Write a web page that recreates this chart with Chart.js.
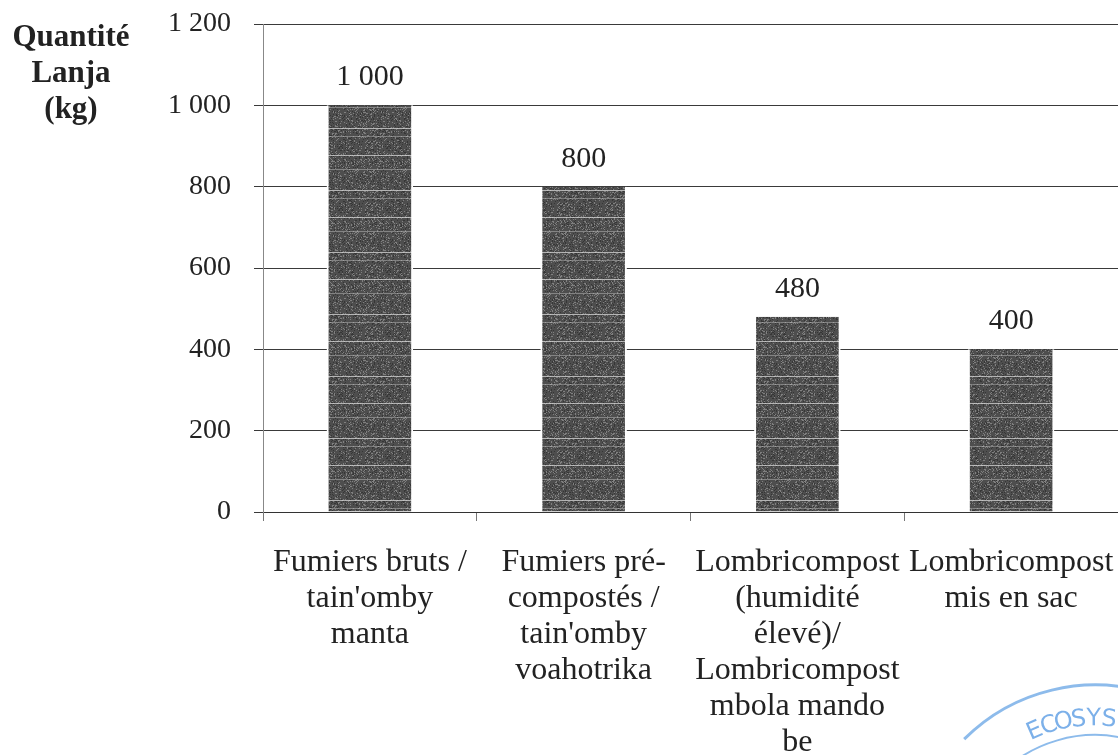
<!DOCTYPE html>
<html>
<head>
<meta charset="utf-8">
<script src="https://cdn.jsdelivr.net/npm/chart.js@4"></script>
<style>
  html, body { margin: 0; padding: 0; background: #fff; }
  #wrap { width: 1118px; height: 755px; }
</style>
</head>
<body>
<div id="wrap"><canvas id="chart" width="1118" height="755"></canvas></div>
<script>
// chart data
const categories = [
  ["Fumiers bruts /", "tain'omby", "manta"],
  ["Fumiers pré-", "compostés /", "tain'omby", "voahotrika"],
  ["Lombricompost", "(humidité", "élevé)/", "Lombricompost", "mbola mando", "be"],
  ["Lombricompost", "mis en sac"]
];
const quantities = [1000, 800, 480, 400];
const yTitleLines = ["Quantité", "Lanja", "(kg)"];
const yMin = 0;
const yMax = 1200;
const yStep = 200;
const stampText = "ECOSYSTE";

const serif = "'Liberation Serif', 'Times New Roman', serif";

// thousands with a plain space: 1 200
const fmt = (v) => String(v).replace(/\B(?=(\d{3})+(?!\d))/g, " ");

// dark grey speckled texture for the bars (deterministic)
const makePattern = () => {
  const c = document.createElement("canvas");
  c.width = 48; c.height = 62;
  const p = c.getContext("2d");
  p.fillStyle = "#4e4e4e";
  p.fillRect(0, 0, c.width, c.height);
  for (let y = 0; y < c.height; y++) {
    for (let x = 0; x < c.width; x++) {
      const h = Math.abs(Math.sin(x * 12.9898 + y * 78.233) * 43758.5453) % 1;
      if (h > 0.85) { p.fillStyle = "#808080"; p.fillRect(x, y, 1, 1); }
      else if (h < 0.12) { p.fillStyle = "#363636"; p.fillRect(x, y, 1, 1); }
    }
  }
  p.fillStyle = "rgba(225,225,225,0.7)";
  p.fillRect(0, 4, c.width, 1);
  p.fillRect(0, 31, c.width, 1);
  p.fillStyle = "rgba(200,200,200,0.45)";
  p.fillRect(0, 12, c.width, 1);
  p.fillRect(0, 45, c.width, 1);
  return p.createPattern(c, "repeat");
};

// y title, value labels and the blue stamp corner
const extrasPlugin = {
  id: "extras",
  afterDatasetsDraw(chart) {
    const ctx = chart.ctx;
    ctx.save();
    ctx.fillStyle = "#222";
    ctx.textAlign = "center";
    ctx.textBaseline = "middle";
    ctx.font = "30px " + serif;
    const meta = chart.getDatasetMeta(0);
    meta.data.forEach((bar, i) => {
      ctx.fillText(fmt(quantities[i]), bar.x, bar.y - 28);
    });
    ctx.font = "bold 31px " + serif;
    yTitleLines.forEach((t, i) => {
      ctx.fillText(t, 71, 38 + i * 36);
    });

    // stamp (partially visible)
    const cx = 1095, cy = 870, r1 = 185, r2 = 165;
    ctx.strokeStyle = "rgba(80,150,225,0.65)";
    ctx.lineWidth = 3;
    ctx.beginPath();
    ctx.arc(cx, cy, r1, Math.PI * 1.25, Math.PI * 1.6);
    ctx.stroke();
    ctx.lineWidth = 2;
    ctx.beginPath();
    ctx.arc(cx, cy, r2 - 30, Math.PI * 1.22, Math.PI * 1.6);
    ctx.stroke();
    ctx.fillStyle = "rgba(80,150,225,0.75)";
    ctx.font = "24px 'DejaVu Sans', sans-serif";
    let a = Math.PI * 1.37;
    for (const ch of stampText) {
      ctx.save();
      ctx.translate(cx + Math.cos(a) * (r2 - 14), cy + Math.sin(a) * (r2 - 14));
      ctx.rotate(a + Math.PI / 2);
      ctx.fillText(ch, 0, 0);
      ctx.restore();
      a += 0.1;
    }
    ctx.restore();
  }
};

const ctx = document.getElementById("chart").getContext("2d");
new Chart(ctx, {
  type: "bar",
  data: {
    labels: categories,
    datasets: [{
      data: quantities,
      backgroundColor: makePattern(),
      borderColor: "#ffffff",
      borderWidth: { left: 2, right: 2, top: 0, bottom: 0 },
      borderSkipped: "start",
      barPercentage: 0.405,
      categoryPercentage: 1.0
    }]
  },
  options: {
    responsive: false,
    animation: false,
    layout: { padding: { top: 24, right: 0, bottom: 0, left: 0 } },
    plugins: {
      legend: { display: false },
      tooltip: { enabled: false }
    },
    scales: {
      x: {
        offset: true,
        grid: {
          offset: true,
          drawOnChartArea: false,
          drawTicks: true,
          tickLength: 9,
          color: "#777"
        },
        border: { display: true, color: "#333", width: 1 },
        ticks: {
          color: "#222",
          padding: 24,
          maxRotation: 0,
          autoSkip: false,
          font: { family: serif, size: 32, lineHeight: 1.12 }
        },
        afterFit: (axis) => {
          axis.height = 243;
          axis.paddingLeft = 0;
          axis.paddingRight = 0;
        }
      },
      y: {
        min: yMin,
        max: yMax,
        grid: {
          color: "#3a3a3a",
          lineWidth: 1,
          tickLength: 9
        },
        border: { display: true, color: "#888", width: 1 },
        ticks: {
          stepSize: yStep,
          color: "#222",
          padding: 23,
          font: { family: serif, size: 28 },
          callback: (v) => fmt(v)
        },
        afterFit: (axis) => {
          axis.width = 263;
          axis.paddingTop = 0;
          axis.paddingBottom = 0;
        }
      }
    }
  },
  plugins: [extrasPlugin]
});
</script>
</body>
</html>
